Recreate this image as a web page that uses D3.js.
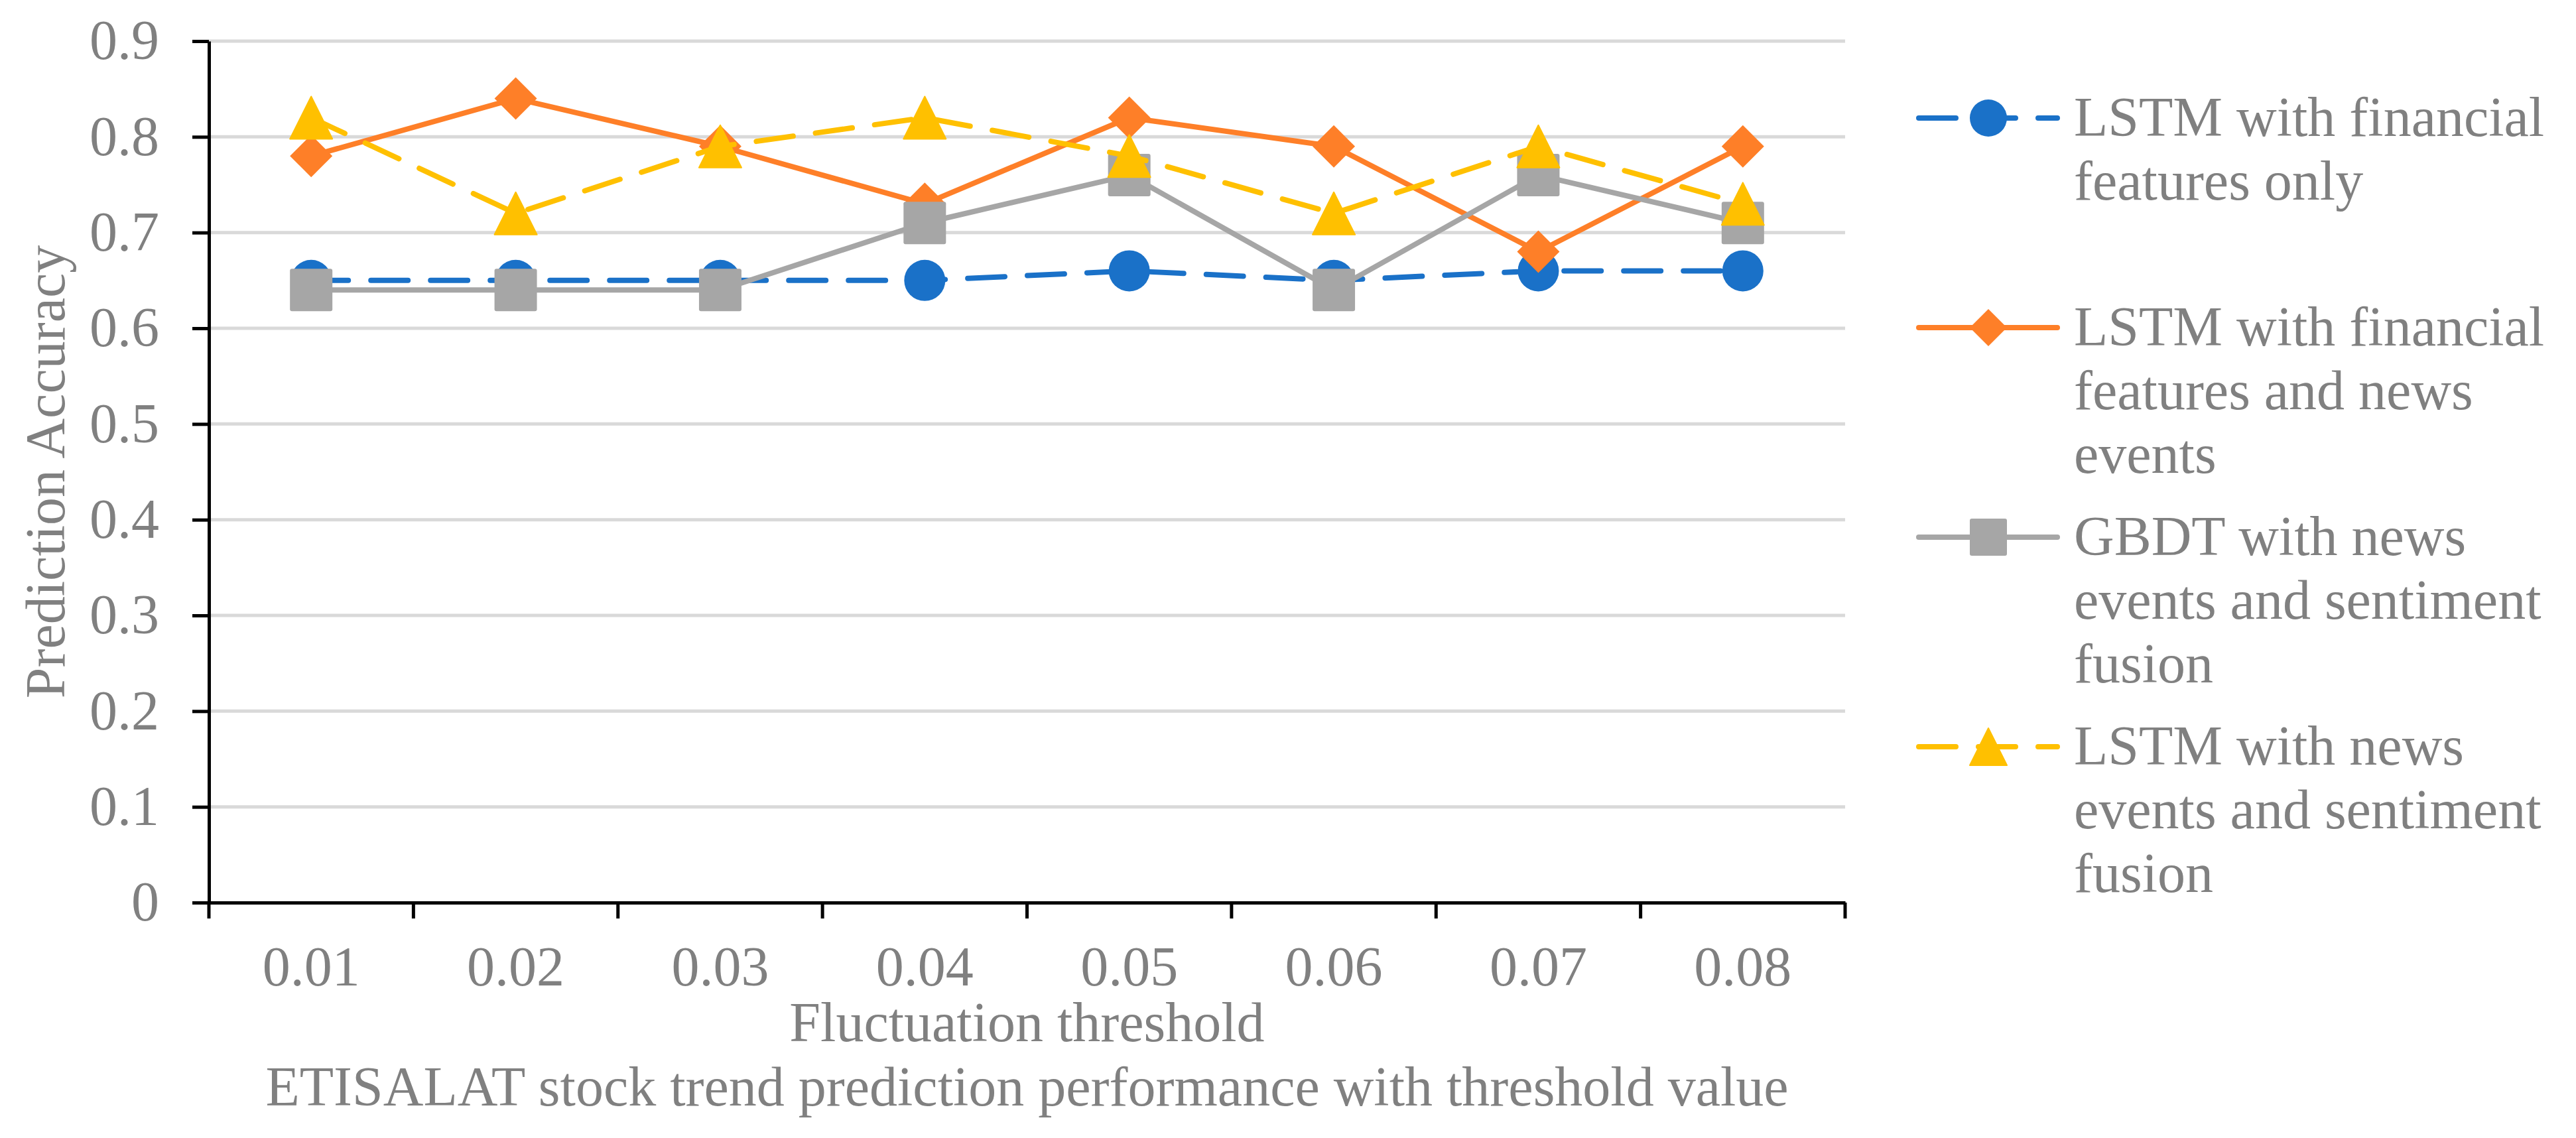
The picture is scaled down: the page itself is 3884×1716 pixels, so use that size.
<!DOCTYPE html>
<html>
<head>
<meta charset="utf-8">
<script src="https://cdn.jsdelivr.net/npm/d3@7"></script>
<style>
  html, body { margin: 0; padding: 0; background: #ffffff; }
  svg { display: block; }
  text { font-family: "Liberation Serif", "Times New Roman", serif; fill: #808080; }
</style>
</head>
<body>
<script>
// ---- data ----
const categories = ["0.01", "0.02", "0.03", "0.04", "0.05", "0.06", "0.07", "0.08"];
const seriesNames = [
  ["LSTM with financial", "features only"],
  ["LSTM with financial", "features and news", "events"],
  ["GBDT with news", "events and sentiment", "fusion"],
  ["LSTM with news", "events and sentiment", "fusion"]
];
const lstmFinancialOnly = [0.65, 0.65, 0.65, 0.65, 0.66, 0.65, 0.66, 0.66];
const lstmFinancialNews = [0.78, 0.84, 0.79, 0.73, 0.82, 0.79, 0.68, 0.79];
const gbdtNewsSentiment = [0.64, 0.64, 0.64, 0.71, 0.76, 0.64, 0.76, 0.71];
const lstmNewsSentiment = [0.82, 0.72, 0.79, 0.82, 0.78, 0.72, 0.79, 0.73];
const yTickValues = [0, 0.1, 0.2, 0.3, 0.4, 0.5, 0.6, 0.7, 0.8, 0.9];
const xTitle = "Fluctuation threshold";
const yTitle = "Prediction Accuracy";
const caption = "ETISALAT stock trend prediction performance with threshold value";

// ---- styles ----
const seriesStyles = [
  { color: "#1a71c8", dash: "56 34", marker: "circle" },
  { color: "#fe7f28", dash: null, marker: "diamond" },
  { color: "#a6a6a6", dash: null, marker: "square" },
  { color: "#ffc000", dash: "56 34", marker: "triangle" }
];
const seriesValues = [lstmFinancialOnly, lstmFinancialNews, gbdtNewsSentiment, lstmNewsSentiment];

const W = 3884, H = 1716;
const plotLeft = 315, plotRight = 2782, plotTop = 62, plotBottom = 1361;
const fontSize = 84;

const svg = d3.select("body").append("svg")
  .attr("width", W).attr("height", H)
  .attr("viewBox", `0 0 ${W} ${H}`);
svg.append("rect").attr("width", W).attr("height", H).attr("fill", "#ffffff");

const x = d3.scaleBand().domain(categories).range([plotLeft, plotRight]);
const cx = d => x(d) + x.bandwidth() / 2;
const y = d3.scaleLinear().domain([0, 0.9]).range([plotBottom, plotTop]);

// gridlines
svg.append("g").selectAll("line")
  .data(yTickValues.filter(v => v > 0))
  .join("line")
  .attr("x1", plotLeft).attr("x2", plotRight)
  .attr("y1", d => y(d)).attr("y2", d => y(d))
  .attr("stroke", "#d9d9d9").attr("stroke-width", 5);

// y axis
const yAxisG = svg.append("g")
  .attr("transform", `translate(${plotLeft},0)`)
  .call(d3.axisLeft(y).tickValues(yTickValues).tickSize(25).tickSizeOuter(0).tickPadding(50)
    .tickFormat(d => d === 0 ? "0" : d3.format(".1f")(d)));
yAxisG.select(".domain").attr("stroke", "#000").attr("stroke-width", 5);
yAxisG.selectAll(".tick line").attr("stroke", "#000").attr("stroke-width", 5);
yAxisG.selectAll(".tick text")
  .attr("font-family", "Liberation Serif, serif")
  .attr("font-size", fontSize).attr("fill", "#808080");

// x axis
const xAxisG = svg.append("g")
  .attr("transform", `translate(0,${plotBottom})`)
  .call(d3.axisBottom(x).tickSize(0).tickSizeOuter(0).tickPadding(65));
xAxisG.select(".domain").attr("stroke", "#000").attr("stroke-width", 5);
xAxisG.selectAll(".tick text")
  .attr("font-family", "Liberation Serif, serif")
  .attr("font-size", fontSize).attr("fill", "#808080");
const boundaries = categories.map(c => x(c)).concat([x.range()[1]]);
xAxisG.selectAll(".bound")
  .data(boundaries)
  .join("line")
  .attr("class", "bound")
  .attr("x1", d => d).attr("x2", d => d)
  .attr("y1", 0).attr("y2", 24)
  .attr("stroke", "#000").attr("stroke-width", 5);

// titles
svg.append("text")
  .attr("x", (plotLeft + plotRight) / 2).attr("y", 1570)
  .attr("text-anchor", "middle").attr("font-size", fontSize)
  .text(xTitle);
svg.append("text")
  .attr("x", (plotLeft + plotRight) / 2).attr("y", 1667)
  .attr("text-anchor", "middle").attr("font-size", fontSize)
  .text(caption);
svg.append("text")
  .attr("transform", `translate(97,${(plotTop + plotBottom) / 2}) rotate(-90)`)
  .attr("text-anchor", "middle").attr("font-size", fontSize)
  .text(yTitle);

// marker drawing
function drawMarker(g, type, color, size) {
  const h = size / 2;
  if (type === "circle") {
    g.append("circle").attr("r", h).attr("fill", color);
  } else if (type === "square") {
    g.append("rect").attr("x", -h).attr("y", -h).attr("width", size).attr("height", size)
      .attr("rx", 3).attr("fill", color);
  } else if (type === "diamond") {
    g.append("path").attr("d", `M0,${-h}L${h},0L0,${h}L${-h},0Z`).attr("fill", color);
  } else if (type === "triangle") {
    g.append("path").attr("d", `M0,${-h}L${h},${h}L${-h},${h}Z`).attr("fill", color)
      .attr("stroke", color).attr("stroke-width", 2).attr("stroke-linejoin", "round");
  }
}

// series
const line = d3.line().x((d, i) => cx(categories[i])).y(d => y(d));
seriesValues.forEach((vals, si) => {
  const st = seriesStyles[si];
  const g = svg.append("g");
  g.append("path")
    .attr("d", line(vals))
    .attr("fill", "none")
    .attr("stroke", st.color)
    .attr("stroke-width", 8)
    .attr("stroke-linecap", "round")
    .attr("stroke-linejoin", "round")
    .attr("stroke-dasharray", st.dash);
  vals.forEach((v, i) => {
    const mg = g.append("g").attr("transform", `translate(${cx(categories[i])},${y(v)})`);
    drawMarker(mg, st.marker, st.color, st.marker === "circle" ? 62 : 64);
  });
});

// legend
const legendX1 = 2893, legendX2 = 3102, legendMarkerX = 2998, legendTextX = 3127;
const legendTop = 178, legendStep = 316, lineGap = 96;
seriesNames.forEach((lines, si) => {
  const st = seriesStyles[si];
  const ly = legendTop + si * legendStep;
  const g = svg.append("g");
  g.append("line")
    .attr("x1", legendX1).attr("x2", legendX2).attr("y1", ly).attr("y2", ly)
    .attr("stroke", st.color).attr("stroke-width", 8)
    .attr("stroke-linecap", "round")
    .attr("stroke-dasharray", st.dash);
  const mg = g.append("g").attr("transform", `translate(${legendMarkerX},${ly})`);
  drawMarker(mg, st.marker, st.color, 56);
  lines.forEach((t, li) => {
    g.append("text")
      .attr("x", legendTextX).attr("y", ly + 27 + li * lineGap)
      .attr("font-size", fontSize)
      .text(t);
  });
});
</script>
</body>
</html>
